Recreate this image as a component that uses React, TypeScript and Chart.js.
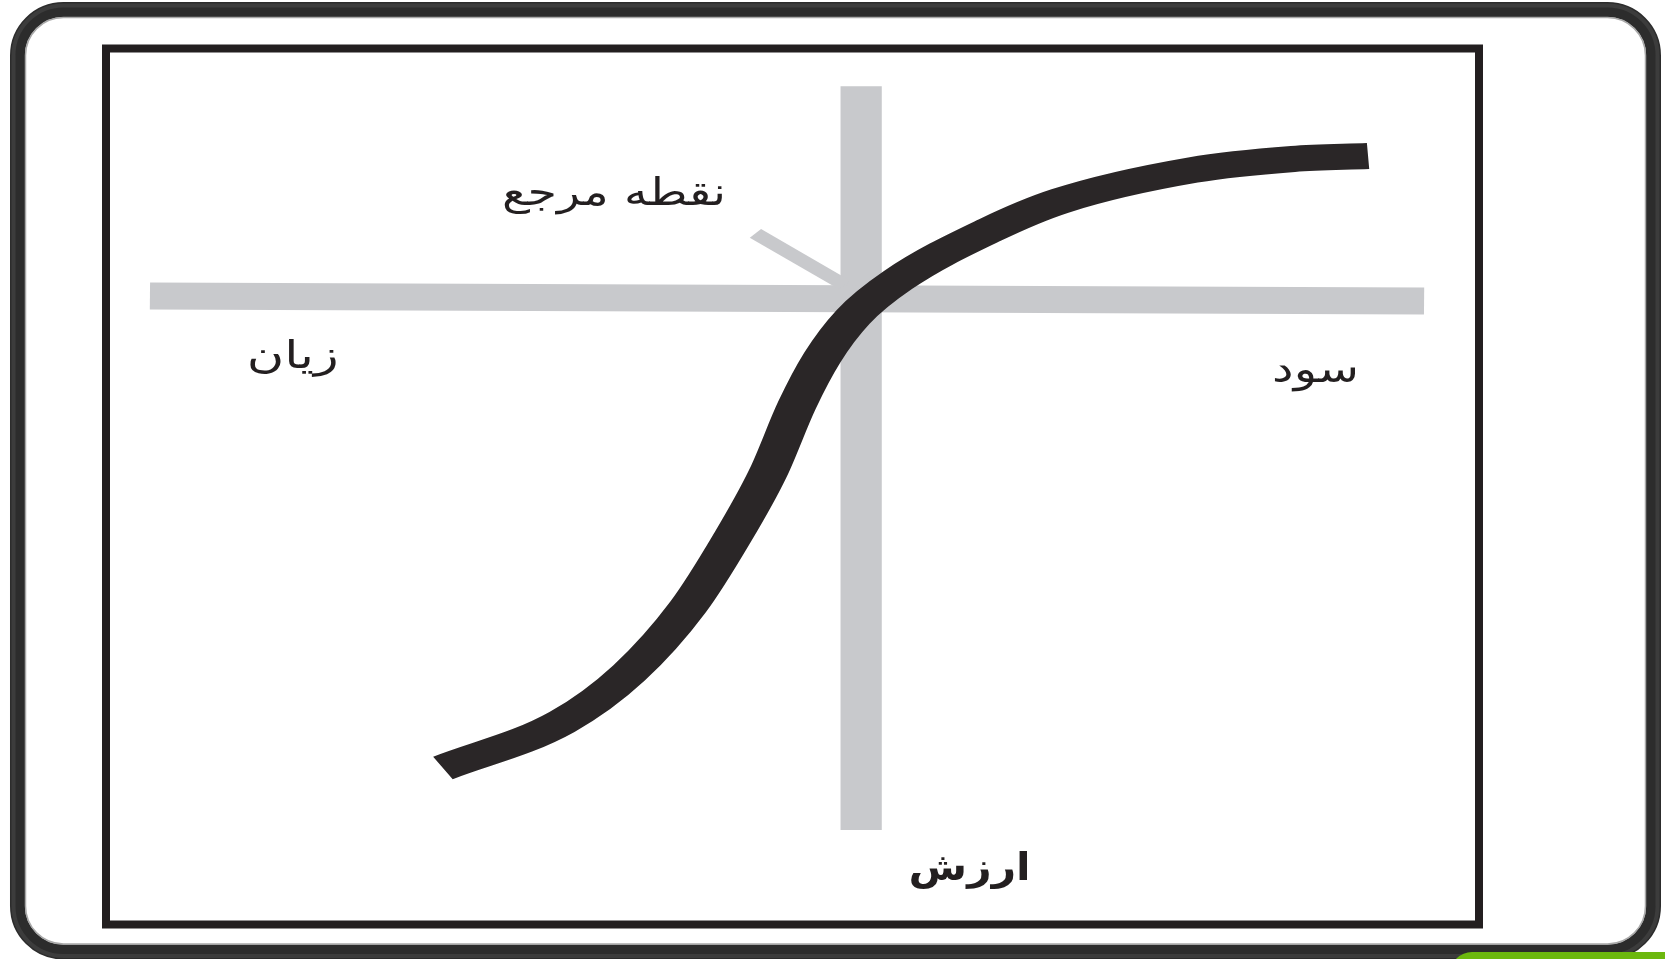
import React, { useEffect, useRef } from "react";
import { Chart, registerables } from "chart.js";

Chart.register(...registerables);

// Value function curve (x = outcome relative to reference point, y = value)
const curveX = [-30.46, -21.79, -16.91, -12.61, -9.48, -6.78, -4.67, -2.85, -0.59, 2.68, 9.38, 14.48, 24.17, 31.45, 36.92];
const curveY = [-53.63, -48.38, -42.79, -35.26, -27.61, -19.96, -12.2, -6.83, -2.15, 2.07, 7.78, 11.09, 14.63, 15.89, 16.23];

// Grey reference axes
const hAxisX = [-51.8, 41.0];
const hAxisY = [0.25, -0.32];
const vAxisX = [0, 0];
const vAxisY = [24.2, -60.7];
const pointerX = [-7.7, -1.2];
const pointerY = [7.4, 1.5];

// Labels
const labelTexts = ["نقطه مرجع", "زیان", "سود", "ارزش"];
const labelX = [-18.0, -41.4, 33.1, 7.9];
const labelY = [11.8, -6.8, -8.4, -65.3];

// visible value window
const X_MIN = -55;
const X_MAX = 45;
const Y_MIN = -71.5;
const Y_MAX = 28.5;

// style: the figure is drawn horizontally stretched (as in the original artwork)
const STRETCH = 1.5;
const LABEL_WIDTHS = [224, 92, 87, 122];
const LABEL_FONT = 38;

const zip = (xs: number[], ys: number[]) => xs.map((x, i) => ({ x, y: ys[i] }));

const W = 1665;
const H = 959;

function roundRectPath(ctx: CanvasRenderingContext2D, x: number, y: number, w: number, h: number, r: number) {
  ctx.beginPath();
  ctx.moveTo(x + r, y);
  ctx.lineTo(x + w - r, y);
  ctx.arcTo(x + w, y, x + w, y + r, r);
  ctx.lineTo(x + w, y + h - r);
  ctx.arcTo(x + w, y + h, x + w - r, y + h, r);
  ctx.lineTo(x + r, y + h);
  ctx.arcTo(x, y + h, x, y + h - r, r);
  ctx.lineTo(x, y + r);
  ctx.arcTo(x, y, x + r, y, r);
  ctx.closePath();
}

const framePlugin = {
  id: "frame",
  beforeDraw(chart: any) {
    const ctx = chart.ctx as CanvasRenderingContext2D;
    ctx.save();
    ctx.fillStyle = "#ffffff";
    ctx.fillRect(0, 0, W, H);
    // outer rounded frame
    roundRectPath(ctx, 17.5, 9.5, 1636, 942.5, 46);
    ctx.lineWidth = 15;
    ctx.strokeStyle = "#2c2c2c";
    ctx.stroke();
    roundRectPath(ctx, 13.5, 5.5, 1644, 950.5, 50);
    ctx.lineWidth = 4;
    ctx.strokeStyle = "#3c3c3c";
    ctx.stroke();
    roundRectPath(ctx, 25.5, 17.5, 1620, 926.5, 38);
    ctx.lineWidth = 1.5;
    ctx.strokeStyle = "#a8a8a8";
    ctx.stroke();
    // green tab at the bottom right
    roundRectPath(ctx, 1450, 952, 260, 40, 22);
    ctx.fillStyle = "#6cb80e";
    ctx.fill();
    ctx.restore();
  },
  beforeDatasetsDraw(chart: any) {
    const ctx = chart.ctx as CanvasRenderingContext2D;
    const ox = chart.chartArea.left;
    ctx.save();
    ctx.translate(ox, 0);
    ctx.scale(STRETCH, 1);
    ctx.translate(-ox, 0);
  },
  afterDatasetsDraw(chart: any) {
    const ctx = chart.ctx as CanvasRenderingContext2D;
    ctx.restore();
    const a = chart.chartArea;
    const xs = chart.scales.x;
    const ys = chart.scales.y;
    const toX = (v: number) => a.left + STRETCH * (xs.getPixelForValue(v) - a.left);
    ctx.save();
    ctx.lineWidth = 8;
    ctx.strokeStyle = "#231f20";
    ctx.strokeRect(a.left, a.top, a.right - a.left, a.bottom - a.top);
    ctx.fillStyle = "#231f20";
    ctx.textAlign = "center";
    ctx.textBaseline = "middle";
    (ctx as any).direction = "rtl";
    labelTexts.forEach((t, i) => {
      ctx.font = (i === 3 ? "bold " : "") + LABEL_FONT + "px 'DejaVu Sans'";
      const m = ctx.measureText(t).width;
      const sx = LABEL_WIDTHS[i] / m;
      ctx.save();
      ctx.translate(toX(labelX[i]), ys.getPixelForValue(labelY[i]));
      ctx.scale(sx, 1);
      ctx.fillText(t, 0, 0);
      ctx.restore();
    });
    ctx.restore();
  },
};

export default function App() {
  const ref = useRef<HTMLCanvasElement>(null);
  useEffect(() => {
    if (!ref.current) return;
    const grey = "#c8c9cc";
    const chart = new Chart(ref.current, {
      type: "line",
      data: {
        datasets: [
          {
            data: zip(curveX, curveY),
            borderColor: "#2a2627",
            borderWidth: 26,
            pointRadius: 0,
            cubicInterpolationMode: "monotone",
            borderCapStyle: "butt",
            borderJoinStyle: "round",
            fill: false,
            order: 0,
          },
          {
            data: zip(pointerX, pointerY),
            borderColor: grey,
            borderWidth: 11.5,
            pointRadius: 0,
            borderCapStyle: "butt",
            borderJoinStyle: "miter",
            fill: false,
            order: 1,
          },
          {
            data: zip(hAxisX, hAxisY),
            borderColor: grey,
            borderWidth: 27,
            pointRadius: 0,
            borderCapStyle: "butt",
            borderJoinStyle: "miter",
            fill: false,
            order: 2,
          },
          {
            data: zip(vAxisX, vAxisY),
            borderColor: grey,
            borderWidth: 27.5,
            pointRadius: 0,
            borderCapStyle: "butt",
            borderJoinStyle: "miter",
            fill: false,
            order: 3,
          },
        ],
      },
      options: {
        animation: false,
        responsive: false,
        maintainAspectRatio: false,
        layout: { padding: { left: 106, right: 186, top: 48.5, bottom: 34.5 } },
        scales: {
          x: { type: "linear", min: X_MIN, max: X_MIN + (X_MAX - X_MIN) * STRETCH, display: false },
          y: { type: "linear", min: Y_MIN, max: Y_MAX, display: false },
        },
        plugins: {
          legend: { display: false },
          tooltip: { enabled: false },
        },
      },
      plugins: [framePlugin],
    } as any);
    return () => chart.destroy();
  }, []);
  return (
    <div style={{ position: "absolute", left: 0, top: 0, width: W, height: H, background: "#fff", overflow: "hidden" }}>
      <canvas ref={ref} width={W} height={H} style={{ display: "block", width: W, height: H }} />
    </div>
  );
}
